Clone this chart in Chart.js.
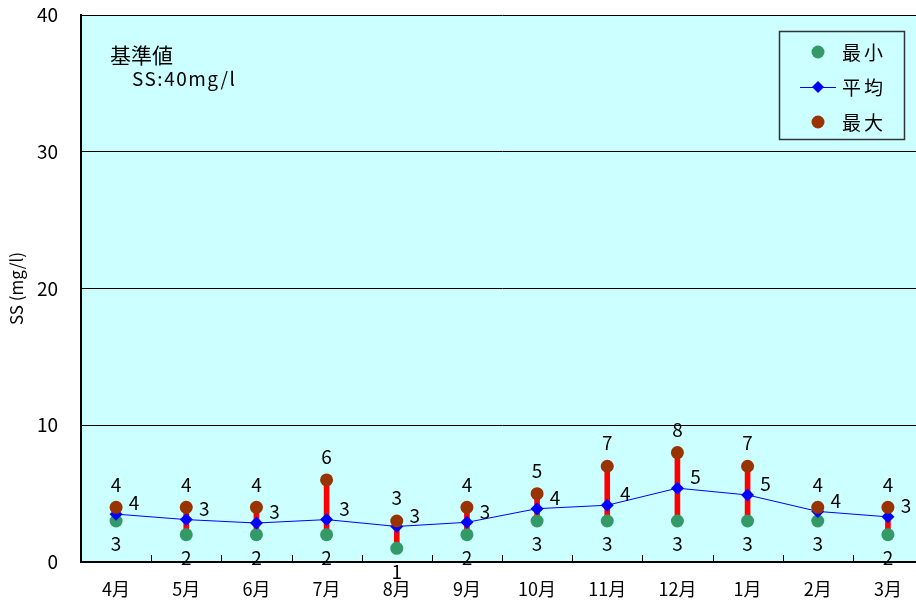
<!DOCTYPE html>
<html lang="ja">
  <head>
    <meta charset="UTF-8" />
    <meta name="viewport" content="width=device-width, initial-scale=1.0" />
    <title>SS</title>
    <script src="https://cdn.jsdelivr.net/npm/chart.js"></script>
    <style>
      html,
      body {
        margin: 0;
        padding: 0;
        background: #fff;
        overflow: hidden;
      }
      .chart_div {
        width: 930px;
        height: 604px;
      }
    </style>
  </head>
  <body>
    <div class="chart_div">
      <canvas id="chart-area" width="930" height="604"></canvas>
    </div>

    <script>
      const months = ["4月", "5月", "6月", "7月", "8月", "9月", "10月", "11月", "12月", "1月", "2月", "3月"];
      const minValues = [3, 2, 2, 2, 1, 2, 3, 3, 3, 3, 3, 2];
      const avgValues = [3.5, 3.1, 2.85, 3.1, 2.6, 2.9, 3.9, 4.15, 5.4, 4.9, 3.7, 3.3];
      const maxValues = [4, 4, 4, 6, 3, 4, 5, 7, 8, 7, 4, 4];
      const yTicks = [0, 10, 20, 30, 40];

      const FONT = '"Noto Sans CJK JP", "Noto Sans", sans-serif';
      const GREEN = "#339966";
      const BLUE = "#0000ff";
      const BROWN = "#993300";

      // 水色の背景
      const plotBg = {
        id: "plotBg",
        beforeDraw(chart) {
          const { ctx, chartArea: a } = chart;
          ctx.save();
          ctx.fillStyle = "#ccffff";
          ctx.fillRect(a.left, a.top, a.right - a.left, a.bottom - a.top);
          ctx.restore();
        },
      };

      // 月の境目の目盛り (内向き)
      const innerTicks = {
        id: "innerTicks",
        afterDraw(chart) {
          const { ctx, chartArea: a } = chart;
          const x = chart.scales.x;
          ctx.save();
          ctx.strokeStyle = "#000";
          ctx.lineWidth = 1;
          for (let i = 1; i < months.length; i++) {
            const px = Math.round((x.getPixelForValue(i - 1) + x.getPixelForValue(i)) / 2) + 0.5;
            ctx.beginPath();
            ctx.moveTo(px, a.bottom);
            ctx.lineTo(px, a.bottom - 7);
            ctx.stroke();
          }
          ctx.restore();
        },
      };

      // 数値ラベル
      const valueLabels = {
        id: "valueLabels",
        afterDatasetsDraw(chart) {
          const { ctx } = chart;
          ctx.save();
          ctx.fillStyle = "#000";
          ctx.font = "19px " + FONT;
          ctx.textAlign = "center";
          ctx.textBaseline = "middle";
          const minMeta = chart.getDatasetMeta(1);
          const avgMeta = chart.getDatasetMeta(2);
          const maxMeta = chart.getDatasetMeta(3);
          months.forEach((m, i) => {
            const p1 = minMeta.data[i];
            ctx.fillText(minValues[i], p1.x, p1.y + 23);
            const p2 = avgMeta.data[i];
            ctx.fillText(Math.round(avgValues[i]), p2.x + 18, p2.y - 11);
            const p3 = maxMeta.data[i];
            ctx.fillText(maxValues[i], p3.x, p3.y - 23);
          });
          ctx.restore();
        },
      };

      // 凡例と基準値
      const legendBox = {
        id: "legendBox",
        afterDraw(chart) {
          const { ctx, chartArea: a } = chart;
          ctx.save();

          ctx.fillStyle = "#000";
          ctx.textAlign = "left";
          ctx.textBaseline = "middle";
          ctx.font = "21px " + FONT;
          ctx.fillText("基準値", a.left + 29, a.top + 40);
          ctx.font = "19px " + FONT;
          ctx.letterSpacing = "1.5px";
          ctx.fillText("SS:40mg/l", a.left + 51, a.top + 64);

          const bx = a.right - 144;
          const by = a.top + 16;
          ctx.letterSpacing = "0px";
          ctx.strokeStyle = "#333";
          ctx.lineWidth = 1.5;
          ctx.strokeRect(bx + 0.5, by + 0.5, 125, 108);

          const cx = bx + 39;
          const rows = [
            { label: "最小", color: GREEN, type: "circle" },
            { label: "平均", color: BLUE, type: "diamond" },
            { label: "最大", color: BROWN, type: "circle" },
          ];
          ctx.font = "19px " + FONT;
          ctx.letterSpacing = "3px";
          rows.forEach((r, k) => {
            const cy = by + 21 + k * 35;
            ctx.fillStyle = r.color;
            if (r.type === "circle") {
              ctx.beginPath();
              ctx.arc(cx, cy, 6.5, 0, Math.PI * 2);
              ctx.fill();
            } else {
              ctx.strokeStyle = BLUE;
              ctx.lineWidth = 1;
              ctx.beginPath();
              ctx.moveTo(cx - 18, cy + 0.5);
              ctx.lineTo(cx + 18, cy + 0.5);
              ctx.stroke();
              ctx.beginPath();
              ctx.moveTo(cx, cy - 6);
              ctx.lineTo(cx + 6, cy);
              ctx.lineTo(cx, cy + 6);
              ctx.lineTo(cx - 6, cy);
              ctx.closePath();
              ctx.fill();
            }
            ctx.fillStyle = "#000";
            ctx.fillText(r.label, cx + 24, cy + 1);
          });
          ctx.restore();
        },
      };

      const ctx = document.getElementById("chart-area").getContext("2d");

      new Chart(ctx, {
        type: "bar",
        data: {
          labels: months,
          datasets: [
            {
              label: "範囲",
              data: months.map((m, i) => [minValues[i], maxValues[i]]),
              backgroundColor: "#ff0000",
              barThickness: 5,
              order: 4,
            },
            {
              type: "line",
              label: "最小",
              data: minValues,
              showLine: false,
              pointStyle: "circle",
              pointRadius: 6.5,
              pointBackgroundColor: GREEN,
              pointBorderWidth: 0,
              order: 3,
            },
            {
              type: "line",
              label: "平均",
              data: avgValues,
              borderColor: BLUE,
              borderWidth: 1,
              pointStyle: "rectRot",
              pointRadius: 6.5,
              pointBackgroundColor: BLUE,
              pointBorderWidth: 0,
              order: 2,
            },
            {
              type: "line",
              label: "最大",
              data: maxValues,
              showLine: false,
              pointStyle: "circle",
              pointRadius: 6.5,
              pointBackgroundColor: BROWN,
              pointBorderWidth: 0,
              order: 1,
            },
          ],
        },
        options: {
          responsive: false,
          animation: false,
          layout: { padding: { top: 15, right: 7, left: 0, bottom: 0 } },
          plugins: {
            legend: { display: false },
            tooltip: { enabled: false },
          },
          scales: {
            x: {
              offset: true,
              grid: { display: false, drawTicks: false },
              border: { display: true, color: "#000", width: 2 },
              ticks: {
                color: "#000",
                font: { family: FONT, size: 18 },
                padding: 16,
              },
              afterFit(scale) {
                scale.height = 42;
              },
            },
            y: {
              min: 0,
              max: 40,
              afterBuildTicks(scale) {
                scale.ticks = yTicks.map((v) => ({ value: v }));
              },
              grid: {
                color: "#000",
                lineWidth: 1,
                drawTicks: true,
                tickLength: 21,
                tickColor: "rgba(0,0,0,0)",
              },
              border: { display: true, color: "#000", width: 2 },
              ticks: {
                color: "#000",
                font: { family: FONT, size: 19 },
                padding: 2,
              },
              title: {
                display: true,
                text: "SS (mg/l)",
                color: "#000",
                font: { family: FONT, size: 17 },
                padding: { top: 6, bottom: 0 },
              },
              afterFit(scale) {
                scale.width = 81;
              },
            },
          },
        },
        plugins: [plotBg, innerTicks, valueLabels, legendBox],
      });
    </script>
  </body>
</html>
